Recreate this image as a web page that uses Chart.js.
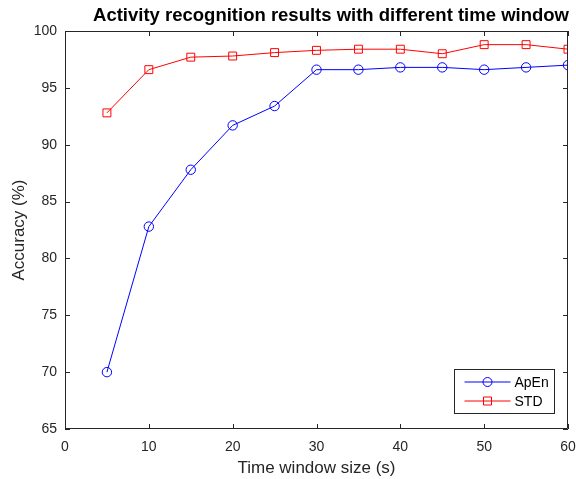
<!DOCTYPE html>
<html>
<head>
<meta charset="utf-8">
<script src="https://cdn.jsdelivr.net/npm/chart.js@4.4.1/dist/chart.umd.min.js"></script>
<style>
  html, body { margin: 0; padding: 0; background: #fff; }
  #wrap { width: 576px; height: 479px; }
</style>
</head>
<body>
<div id="wrap"><canvas id="accChart" width="576" height="479"></canvas></div>
<script>
// time window sizes (s)
const windowSizes = [5, 10, 15, 20, 25, 30, 35, 40, 45, 50, 55, 60];
// accuracy (%) per feature
const apenAcc = [70.0, 82.8, 87.8, 91.7, 93.4, 96.6, 96.6, 96.8, 96.8, 96.6, 96.8, 97.0];
const stdAcc = [92.8, 96.6, 97.7, 97.8, 98.1, 98.3, 98.4, 98.4, 98.0, 98.8, 98.8, 98.4];
const xTicks = [0, 10, 20, 30, 40, 50, 60];
const yTicks = [65, 70, 75, 80, 85, 90, 95, 100];
const chartTitle = 'Activity recognition results with different time window';

const axisColor = '#262626';
const apenColor = '#0000ff';
const stdColor = '#ff0000';
const fontFam = 'Liberation Sans, Arial, sans-serif';

// matlab style box with inward ticks, title and legend in lower right
const boxPlugin = {
  id: 'matlabBox',
  afterDatasetsDraw(chart) {
    const ctx = chart.ctx;
    const a = chart.chartArea;
    const xs = chart.scales.x, ys = chart.scales.y;
    ctx.save();
    ctx.strokeStyle = axisColor;
    ctx.lineWidth = 1;
    ctx.beginPath();
    ctx.rect(a.left + 0.5, a.top + 0.5, a.right - a.left - 1, a.bottom - a.top - 1);
    ctx.stroke();
    const tl = 5;
    ctx.beginPath();
    xTicks.forEach(v => {
      const px = Math.round(xs.getPixelForValue(v)) + 0.5;
      ctx.moveTo(px, a.bottom); ctx.lineTo(px, a.bottom - tl);
      ctx.moveTo(px, a.top); ctx.lineTo(px, a.top + tl);
    });
    yTicks.forEach(v => {
      const py = Math.round(ys.getPixelForValue(v)) + 0.5;
      ctx.moveTo(a.left, py); ctx.lineTo(a.left + tl, py);
      ctx.moveTo(a.right, py); ctx.lineTo(a.right - tl, py);
    });
    ctx.stroke();

    // title (matlab centres it a bit right of the canvas middle)
    ctx.fillStyle = '#000';
    ctx.font = 'bold 18.5px ' + fontFam;
    ctx.textAlign = 'center';
    ctx.textBaseline = 'middle';
    ctx.fillText(chartTitle, 331, 16);

    // legend
    const lx = 454.5, ly = 369.5, lw = 100, lh = 44;
    ctx.fillStyle = '#fff';
    ctx.fillRect(lx, ly, lw, lh);
    ctx.strokeStyle = axisColor;
    ctx.strokeRect(lx, ly, lw, lh);
    const cols = [apenColor, stdColor];
    chart.data.datasets.forEach((ds, i) => {
      const y = ly + 12.5 + i * 19;
      ctx.strokeStyle = cols[i];
      ctx.lineWidth = 1;
      ctx.beginPath();
      ctx.moveTo(lx + 10, y); ctx.lineTo(lx + 56, y);
      ctx.stroke();
      ctx.beginPath();
      if (i === 0) {
        ctx.arc(lx + 33, y, 4.5, 0, Math.PI * 2);
      } else {
        ctx.rect(lx + 29, y - 4, 8, 8);
      }
      ctx.stroke();
      ctx.fillStyle = '#000';
      ctx.font = '14px ' + fontFam;
      ctx.textBaseline = 'middle';
      ctx.textAlign = 'left';
      ctx.fillText(ds.label, lx + 60, y + 1);
    });
    ctx.restore();
  }
};

new Chart(document.getElementById('accChart').getContext('2d'), {
  type: 'line',
  data: {
    datasets: [{
      label: 'ApEn',
      data: windowSizes.map((x, i) => ({ x: x, y: apenAcc[i] })),
      borderColor: apenColor,
      backgroundColor: 'transparent',
      borderWidth: 1,
      pointStyle: 'circle',
      pointRadius: 4.7,
      pointBorderWidth: 1,
      pointBackgroundColor: 'transparent',
      tension: 0
    }, {
      label: 'STD',
      data: windowSizes.map((x, i) => ({ x: x, y: stdAcc[i] })),
      borderColor: stdColor,
      backgroundColor: 'transparent',
      borderWidth: 1,
      pointStyle: 'rect',
      pointRadius: 5.6,
      pointBorderWidth: 1,
      pointBackgroundColor: 'transparent',
      tension: 0
    }]
  },
  options: {
    responsive: false,
    animation: false,
    layout: { padding: { left: 0, right: 8, top: 31, bottom: 0 } },
    plugins: {
      legend: { display: false },
      tooltip: { enabled: false },
      title: { display: false }
    },
    scales: {
      x: {
        type: 'linear',
        min: 0, max: 60,
        afterBuildTicks: s => { s.ticks = xTicks.map(v => ({ value: v })); },
        afterFit: s => { s.height = 50; s.paddingLeft = 0; s.paddingRight = 0; },
        grid: { display: false, drawTicks: false },
        border: { display: false },
        ticks: { color: axisColor, font: { family: fontFam, size: 14 }, padding: 10, maxRotation: 0 },
        title: { display: true, text: 'Time window size (s)', color: axisColor, font: { family: fontFam, size: 17 }, padding: { top: 0, bottom: 0 } }
      },
      y: {
        type: 'linear',
        min: 65, max: 100,
        afterBuildTicks: s => { s.ticks = yTicks.map(v => ({ value: v })); },
        afterFit: s => { s.width = 65; s.paddingTop = 0; s.paddingBottom = 0; },
        grid: { display: false, drawTicks: false },
        border: { display: false },
        ticks: { color: axisColor, font: { family: fontFam, size: 14 }, padding: 8 },
        title: { display: true, text: 'Accuracy (%)', color: axisColor, font: { family: fontFam, size: 17 }, padding: { top: 9, bottom: 0 } }
      }
    }
  },
  plugins: [boxPlugin]
});
</script>
</body>
</html>
